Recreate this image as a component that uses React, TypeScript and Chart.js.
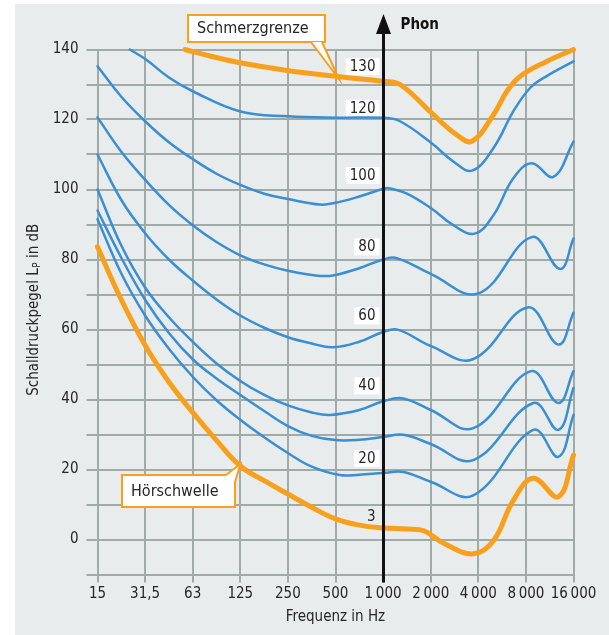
import React, { useEffect, useRef } from 'react';
import { Chart, registerables } from 'chart.js';

Chart.register(...registerables);

// ---------- data ----------
const xTickFreqs = [15.625, 31.25, 62.5, 125, 250, 500, 1000, 2000, 4000, 8000, 16000];
const xTickLabels = ['15', '31,5', '63', '125', '250', '500', '1\u2009000', '2\u2009000', '4\u2009000', '8\u2009000', '16\u2009000'];
const yGridValues = [-10, 0, 10, 20, 30, 40, 50, 60, 70, 80, 90, 100, 110, 120, 130, 140];
const yLabelValues = [0, 20, 40, 60, 80, 100, 120, 140];

// Schmerzgrenze (130 phon)
const painFreq = [55.9, 82.8, 124.5, 247, 533, 1000, 1280, 2030, 2925, 3650, 4980, 6055, 7340, 10830, 16000];
const painDb = [140, 138, 136.2, 134, 132.2, 130.9, 130, 121.8, 115.6, 113.8, 121.3, 128, 132.3, 136.6, 140];

// 120 phon
const phon120Freq = [25, 31.5, 44.2, 63, 125, 250, 500, 1000, 1280, 2030, 2780, 3650, 4980, 6660, 8500, 10830, 16000];
const phon120Db = [140, 137.2, 132, 128, 122.3, 120.9, 120.5, 120.5, 119.5, 113.2, 108, 105.4, 111.8, 122.3, 129, 132.4, 136.6];

// 100 phon
const phon100Freq = [15.625, 22.1, 31.25, 44.2, 62.5, 88.4, 125, 177, 250, 400, 500, 707, 1000, 1080, 1414, 2030, 2780, 3800, 4980, 6660, 8700, 11920, 16000];
const phon100Db = [135.2, 126.5, 119.5, 113.5, 108.7, 104.5, 101.3, 98.8, 97.3, 95.7, 96.2, 98, 100.2, 100.4, 98.8, 94.5, 89.8, 87.4, 92.6, 103.2, 107.5, 103.6, 113.7];

// 80 phon
const phon80Freq = [15.625, 22.1, 31.25, 44.2, 62.5, 88.4, 125, 177, 250, 400, 500, 707, 1000, 1220, 2000, 4000, 8700, 13150, 16000];
const phon80Db = [120.6, 110.8, 102.8, 95.6, 89.8, 85, 81.2, 78.6, 76.8, 75.3, 75.6, 77.5, 80, 80.4, 75.9, 70.3, 86.4, 77.3, 86];

// 60 phon
const phon60Freq = [15.625, 22.1, 31.25, 44.2, 62.5, 88.4, 125, 177, 250, 354, 480, 707, 1000, 1247, 2000, 3700, 8220, 12830, 16000];
const phon60Db = [110, 97, 87.5, 80, 74, 68.6, 64, 60.5, 57.8, 56, 54.9, 56.5, 59.3, 59.9, 55.3, 51.5, 66.3, 55.7, 64.8];

// 40 phon
const phon40Freq = [15.625, 22.1, 31.25, 44.2, 62.5, 88.4, 125, 177, 250, 354, 462, 707, 1000, 1340, 2000, 3720, 8600, 12830, 16000];
const phon40Db = [100, 84, 72, 63.5, 56.5, 50.3, 45.3, 41.3, 38.3, 36.3, 35.6, 37, 39.5, 40.3, 37, 31.8, 48.1, 39, 48.1];

// 30 phon
const phon30Freq = [15.625, 22.1, 31.25, 44.2, 62.5, 88.4, 125, 177, 250, 354, 500, 707, 1000, 1340, 2000, 3720, 8910, 12830, 16000];
const phon30Db = [94, 80.5, 68.5, 59, 51.5, 46, 41.3, 36.7, 32.4, 29.6, 28.4, 28.5, 29.3, 29.9, 27.3, 22.7, 39, 31.3, 43.3];

// 20 phon
const phon20Freq = [15.625, 22.1, 31.25, 44.2, 62.5, 88.4, 125, 177, 250, 354, 532, 707, 1000, 1340, 2000, 3720, 8910, 12830, 16000];
const phon20Db = [91.5, 76, 64, 54.5, 46.5, 39.8, 34.2, 29.2, 24.7, 20.8, 18.4, 18.5, 19, 19.3, 16.5, 12.6, 31.3, 23.6, 35.6];

// Hörschwelle (3 phon)
const thresholdFreq = [15.625, 22.1, 31.25, 44.2, 62.5, 88.4, 125, 177, 250, 354, 500, 707, 1000, 1414, 1813, 2400, 3720, 5000, 6660, 8910, 12830, 16000];
const thresholdDb = [83.6, 68.5, 55.5, 45, 36.3, 28.3, 21, 16.8, 13, 9.2, 5.9, 4.1, 3.3, 3, 2.5, -1, -4.1, -0.3, 11.2, 17.5, 12.2, 24.1];

// Phon labels along the 1000 Hz axis
const phonLabelTexts = ['130', '120', '100', '80', '60', '40', '20', '3'];
const phonLabelDb = [135.1, 123.2, 104, 83.6, 63.9, 43.9, 23.1, 6.4];

// ---------- styles ----------
const FONT = "'DejaVu Sans Condensed', 'Liberation Sans Narrow', Roboto, sans-serif";
const BG = '#e9ecec';
const GRID = '#a0aaa6';
const BLUE = '#3a8ed2';
const ORANGE = '#f8a01c';
const TEXT = '#262626';

const toPts = (f: number[], d: number[]) => f.map((v, i) => ({ x: v, y: d[i] }));

const overlay = {
  id: 'overlay',
  beforeDraw(chart: any) {
    const ctx = chart.ctx;
    ctx.save();
    ctx.fillStyle = '#ffffff';
    ctx.fillRect(0, 0, chart.width, chart.height);
    ctx.fillStyle = BG;
    ctx.fillRect(15, 4, chart.width - 15, chart.height - 4);
    ctx.restore();
  },
  beforeDatasetsDraw(chart: any) {
    const ctx = chart.ctx;
    const xs = chart.scales.x;
    const ys = chart.scales.y;
    const x1000 = Math.round(xs.getPixelForValue(1000)) + 0.5;
    ctx.save();
    ctx.font = `15px ${FONT}`;
    ctx.textBaseline = 'middle';
    phonLabelTexts.forEach((t, i) => {
      const yc = ys.getPixelForValue(phonLabelDb[i]);
      const right = x1000 - 4;
      const w = ctx.measureText(t).width;
      if (t !== '3') {
        ctx.fillStyle = '#ffffff';
        ctx.fillRect(right - w - 8, yc - 8.5, w + 8, 17);
      }
      ctx.fillStyle = TEXT;
      ctx.textAlign = 'right';
      ctx.fillText(t, right - 4, yc + 0.5);
    });
    ctx.restore();
  },
  afterDatasetsDraw(chart: any) {
    const ctx = chart.ctx;
    const xs = chart.scales.x;
    const x1000 = Math.round(xs.getPixelForValue(1000)) + 0.5;
    ctx.save();
    // black 1000 Hz axis with arrow
    ctx.strokeStyle = '#111';
    ctx.lineWidth = 3;
    ctx.beginPath();
    ctx.moveTo(x1000, chart.chartArea.bottom + 8);
    ctx.lineTo(x1000, 30);
    ctx.stroke();
    ctx.fillStyle = '#111';
    ctx.beginPath();
    ctx.moveTo(x1000, 14);
    ctx.lineTo(x1000 - 7.5, 34);
    ctx.lineTo(x1000 + 7.5, 34);
    ctx.closePath();
    ctx.fill();
    ctx.font = `bold 15px ${FONT}`;
    ctx.textBaseline = 'middle';
    ctx.textAlign = 'left';
    ctx.fillText('Phon', x1000 + 17, 25);

    // callouts
    const callout = (text: string, bx: number, by: number, bw: number, bh: number, tri: number[][]) => {
      ctx.fillStyle = '#ffffff';
      ctx.strokeStyle = ORANGE;
      ctx.lineWidth = 2;
      ctx.fillRect(bx, by, bw, bh);
      ctx.strokeRect(bx, by, bw, bh);
      ctx.beginPath();
      ctx.moveTo(tri[0][0], tri[0][1]);
      ctx.lineTo(tri[1][0], tri[1][1]);
      ctx.lineTo(tri[2][0], tri[2][1]);
      ctx.closePath();
      ctx.fill();
      ctx.beginPath();
      ctx.moveTo(tri[0][0], tri[0][1]);
      ctx.lineTo(tri[1][0], tri[1][1]);
      ctx.lineTo(tri[2][0], tri[2][1]);
      ctx.stroke();
      ctx.fillStyle = TEXT;
      ctx.textAlign = 'left';
      ctx.font = `16px ${FONT}`;
      ctx.fillText(text, bx + 9, by + bh / 2 + 0.5);
    };
    callout('Schmerzgrenze', 188, 15, 137, 27, [[311, 42], [339, 79], [322, 42]]);
    callout('Hörschwelle', 122, 475, 113, 32, [[226, 475], [240.5, 464], [235, 482]]);

    // axis titles
    ctx.fillStyle = TEXT;
    ctx.font = `15px ${FONT}`;
    ctx.textAlign = 'center';
    ctx.textBaseline = 'middle';
    const ca = chart.chartArea;
    ctx.fillText('Frequenz in Hz', (ca.left + ca.right) / 2, 617);

    ctx.translate(38, 310);
    ctx.rotate(-Math.PI / 2);
    ctx.textBaseline = 'alphabetic';
    ctx.textAlign = 'left';
    const p1 = 'Schalldruckpegel L';
    const p2 = 'P';
    const p3 = ' in dB';
    ctx.font = `15px ${FONT}`;
    const w1 = ctx.measureText(p1).width;
    const w3 = ctx.measureText(p3).width;
    ctx.font = `10px ${FONT}`;
    const w2 = ctx.measureText(p2).width;
    const total = w1 + w2 + w3;
    let x = -total / 2;
    ctx.font = `15px ${FONT}`;
    ctx.fillText(p1, x, 0);
    x += w1;
    ctx.font = `10px ${FONT}`;
    ctx.fillText(p2, x + 0.5, 2);
    x += w2 + 0.5;
    ctx.font = `15px ${FONT}`;
    ctx.fillText(p3, x, 0);
    ctx.restore();
  },
};

export default function App() {
  const ref = useRef<HTMLCanvasElement | null>(null);
  useEffect(() => {
    document.body.style.margin = '0';
    const canvas = ref.current;
    if (!canvas) return;
    const line = (f: number[], d: number[], color: string, width: number) => ({
      data: toPts(f, d),
      borderColor: color,
      borderWidth: width,
      pointRadius: 0,
      fill: false,
      tension: 0.4,
      borderCapStyle: 'round',
      borderJoinStyle: 'round',
      clip: 6,
    });
    const chart = new Chart(canvas, {
      type: 'line',
      data: {
        datasets: [
          line(painFreq, painDb, ORANGE, 5),
          line(thresholdFreq, thresholdDb, ORANGE, 5),
          line(phon120Freq, phon120Db, BLUE, 2.5),
          line(phon100Freq, phon100Db, BLUE, 2.5),
          line(phon80Freq, phon80Db, BLUE, 2.5),
          line(phon60Freq, phon60Db, BLUE, 2.5),
          line(phon40Freq, phon40Db, BLUE, 2.5),
          line(phon30Freq, phon30Db, BLUE, 2.5),
          line(phon20Freq, phon20Db, BLUE, 2.5),
        ] as any,
      },
      options: {
        animation: false,
        responsive: false,
        events: [],
        layout: { padding: { left: 0, top: 49.5, right: 35.5, bottom: 0 } },
        plugins: { legend: { display: false }, tooltip: { enabled: false } },
        scales: {
          x: {
            type: 'logarithmic',
            min: 15.625,
            max: 16000,
            bounds: 'data',
            afterBuildTicks: (s: any) => {
              s.ticks = xTickFreqs.map((v) => ({ value: v }));
            },
            afterFit: (s: any) => {
              s.height = 60.5;
            },
            ticks: {
              callback: (_v: any, i: number) => xTickLabels[i],
              autoSkip: false,
              maxRotation: 0,
              minRotation: 0,
              padding: 3,
              color: TEXT,
              font: { family: FONT, size: 15 },
            },
            grid: { color: GRID, lineWidth: 2, tickLength: 8, drawTicks: true },
            border: { display: false },
          },
          y: {
            type: 'linear',
            min: -10,
            max: 140,
            afterBuildTicks: (s: any) => {
              s.ticks = yGridValues.map((v) => ({ value: v }));
            },
            afterFit: (s: any) => {
              s.width = 97.5;
            },
            ticks: {
              callback: (v: any) => (yLabelValues.includes(Number(v)) ? String(v) : ''),
              autoSkip: false,
              padding: 8,
              color: TEXT,
              font: { family: FONT, size: 15 },
            },
            grid: { color: GRID, lineWidth: 2, tickLength: 11, drawTicks: true },
            border: { display: false },
          },
        },
      } as any,
      plugins: [overlay],
    });
    return () => chart.destroy();
  }, []);
  return <canvas ref={ref} width={609} height={635} style={{ display: 'block' }} />;
}
